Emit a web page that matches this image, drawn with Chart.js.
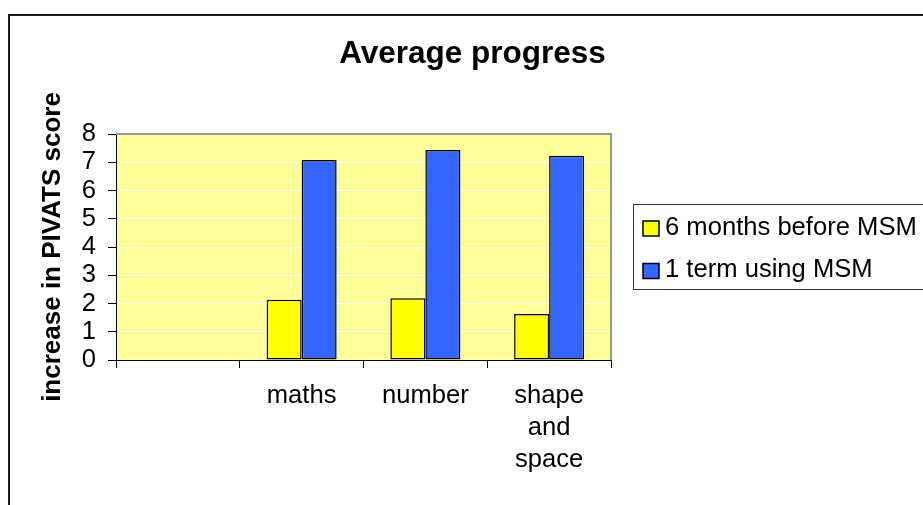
<!DOCTYPE html>
<html><head><meta charset="utf-8">
<script src="https://cdn.jsdelivr.net/npm/chart.js@4"></script>
<style>html,body{margin:0;padding:0;background:#fff;overflow:hidden}#wrap{width:923px;height:505px;position:relative}</style>
</head><body><div id="wrap"><canvas id="c" width="923" height="505"></canvas></div>
<script>
const categories = ['', 'maths', 'number', 'shape and space'];
const before = [null, 2.13, 2.19, 1.63];
const during = [null, 7.08, 7.43, 7.23];
const seriesNames = ['6 months before MSM', '1 term using MSM'];
const yTicks = [0, 1, 2, 3, 4, 5, 6, 7, 8];
const titleText = 'Average progress';
const yTitle = 'increase in PIVATS score';

const FONT = '"Liberation Sans", Arial, sans-serif';
Chart.defaults.color = '#000';
Chart.defaults.font.family = FONT;

const frame = {
  id: 'frame',
  beforeDraw(chart) {
    const {ctx, chartArea: a} = chart;
    ctx.save();
    ctx.fillStyle = '#fff';
    ctx.fillRect(0, 0, chart.width, chart.height);
    ctx.fillStyle = '#FFFF99';
    ctx.fillRect(a.left, a.top, a.right - a.left, a.bottom - a.top);
    ctx.strokeStyle = '#1a1a1a';
    ctx.lineWidth = 2;
    ctx.beginPath();
    ctx.moveTo(9, chart.height + 5);
    ctx.lineTo(9, 15);
    ctx.lineTo(chart.width + 5, 15);
    ctx.stroke();
    ctx.fillStyle = '#000';
    ctx.font = 'bold 31.5px ' + FONT;
    ctx.textAlign = 'center';
    ctx.textBaseline = 'alphabetic';
    ctx.fillText(titleText, 472.5, 63);
    ctx.restore();
  },
  beforeDatasetsDraw(chart) {
    const {ctx, chartArea: a} = chart;
    ctx.save();
    ctx.strokeStyle = '#999';
    ctx.lineWidth = 2;
    ctx.beginPath();
    ctx.moveTo(a.left, a.top);
    ctx.lineTo(a.right, a.top);
    ctx.lineTo(a.right, a.bottom);
    ctx.stroke();
    ctx.restore();
  },
  afterDraw(chart) {
    const {ctx} = chart;
    ctx.save();
    ctx.strokeStyle = '#333';
    ctx.lineWidth = 1;
    ctx.strokeRect(633.5, 204.5, 400, 85);
    chart.data.datasets.forEach((ds, i) => {
      const y = 234.5 + i * 42.5;
      ctx.fillStyle = ds.backgroundColor;
      ctx.fillRect(643, y - 13.5, 16, 15);
      ctx.strokeStyle = '#000';
      ctx.lineWidth = 1.5;
      ctx.strokeRect(643, y - 13.5, 16, 15);
      ctx.fillStyle = '#000';
      ctx.font = '25.6px ' + FONT;
      ctx.textAlign = 'left';
      ctx.textBaseline = 'alphabetic';
      ctx.fillText(ds.label, 665, y);
    });
    ctx.restore();
  }
};

new Chart(document.getElementById('c'), {
  type: 'bar',
  data: {
    labels: categories,
    datasets: [
      {label: seriesNames[0], data: before, backgroundColor: '#FFFF00', borderColor: '#000', borderWidth: 1.5, borderSkipped: false},
      {label: seriesNames[1], data: during, backgroundColor: '#3366FF', borderColor: '#000', borderWidth: 1.5, borderSkipped: false}
    ]
  },
  options: {
    responsive: false,
    animation: false,
    devicePixelRatio: 1,
    layout: {padding: {left: 0, top: 134, right: 312, bottom: 0}},
    datasets: {bar: {categoryPercentage: 0.566, barPercentage: 1}},
    plugins: {legend: {display: false}, title: {display: false}, tooltip: {enabled: false}},
    scales: {
      x: {
        offset: true,
        grid: {offset: true, drawOnChartArea: false, tickColor: '#000', tickLength: 8},
        border: {color: '#000', width: 1},
        ticks: {
          autoSkip: false, maxRotation: 0, minRotation: 0, padding: 11.5,
          font: {size: 25.6, lineHeight: 1.25},
          callback: (v, i) => (categories[i].length > 8 ? categories[i].split(' ') : categories[i])
        },
        afterFit: s => { s.height = 145; }
      },
      y: {
        min: 0, max: 8,
        afterBuildTicks: s => { s.ticks = yTicks.map(v => ({value: v})); },
        grid: {
          color: c => (c.tick && c.tick.value === 8 ? '#999' : (c.tick && c.tick.value === 0 ? '#000' : '#fff')),
          tickColor: '#000', tickLength: 8, lineWidth: 1
        },
        border: {color: '#000', width: 1},
        ticks: {autoSkip: false, padding: 12, font: {size: 25.6}},
        title: {display: true, text: yTitle, font: {size: 26, weight: 'bold', lineHeight: 1.2}, padding: {top: 37.4, bottom: 0}},
        afterFit: s => { s.width = 116; }
      }
    }
  },
  plugins: [frame]
});
</script></body></html>
